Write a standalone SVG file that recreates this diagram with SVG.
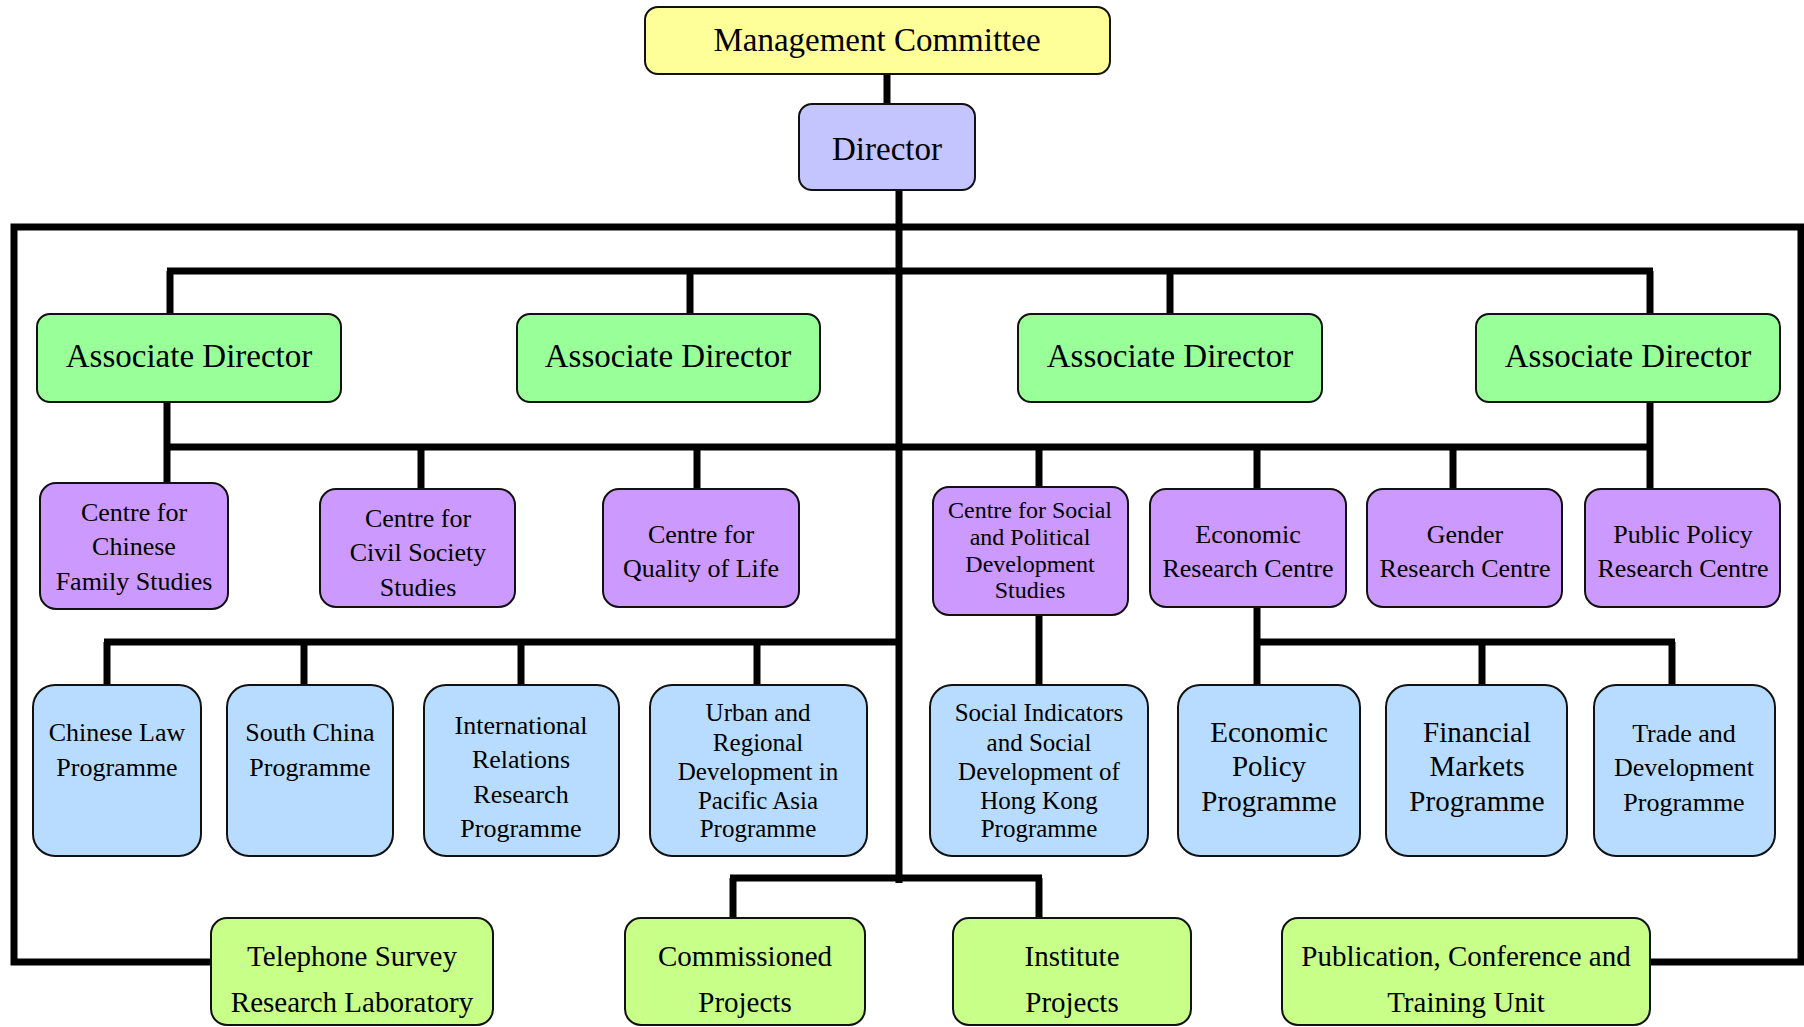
<svg xmlns="http://www.w3.org/2000/svg" width="1804" height="1027" viewBox="0 0 1804 1027">
<style>
.box{stroke:#111;stroke-width:2}
.mc{fill:#ffff99}.dir{fill:#c4c4ff}.ad{fill:#99ff99}.ctr{fill:#cc99ff}.prg{fill:#b8dcff}.unit{fill:#c8ff88}
text{font-family:"Liberation Serif","Times New Roman",serif;fill:#000;text-anchor:middle;dominant-baseline:central}
.f33{font-size:33px}.f29{font-size:29px}.f26{font-size:26px}.f25{font-size:25px}.f24{font-size:24px}
.ln{stroke:#000;stroke-width:7;fill:none;stroke-linecap:butt}
</style>
<rect width="1804" height="1027" fill="#fff"/>
<g id="connectors" class="ln">
<line x1="887" y1="74" x2="887" y2="104"/>
<line x1="899" y1="190" x2="899" y2="883"/>
<path d="M211 962 H14 V227 H1801 V962 H1650"/>
<line x1="167" y1="271" x2="1653" y2="271"/>
<line x1="170" y1="271" x2="170" y2="314"/>
<line x1="690" y1="271" x2="690" y2="314"/>
<line x1="1170" y1="271" x2="1170" y2="314"/>
<line x1="1650" y1="271" x2="1650" y2="314"/>
<line x1="167" y1="402" x2="167" y2="483"/>
<line x1="1650" y1="402" x2="1650" y2="489"/>
<line x1="164" y1="447" x2="1653" y2="447"/>
<line x1="421" y1="447" x2="421" y2="489"/>
<line x1="697" y1="447" x2="697" y2="489"/>
<line x1="1039" y1="447" x2="1039" y2="487"/>
<line x1="1257" y1="447" x2="1257" y2="489"/>
<line x1="1453" y1="447" x2="1453" y2="489"/>
<line x1="104" y1="642" x2="899" y2="642"/>
<line x1="107" y1="642" x2="107" y2="685"/>
<line x1="304" y1="642" x2="304" y2="685"/>
<line x1="521" y1="642" x2="521" y2="685"/>
<line x1="757" y1="642" x2="757" y2="685"/>
<line x1="1039" y1="615" x2="1039" y2="685"/>
<line x1="1257" y1="607" x2="1257" y2="685"/>
<line x1="1254" y1="642" x2="1675" y2="642"/>
<line x1="1482" y1="642" x2="1482" y2="685"/>
<line x1="1672" y1="642" x2="1672" y2="685"/>
<line x1="730" y1="878" x2="1042" y2="878"/>
<line x1="733" y1="878" x2="733" y2="918"/>
<line x1="1039" y1="878" x2="1039" y2="918"/>
</g>
<g id="management-committee"><rect class="box mc" x="645" y="7" width="465" height="67" rx="13"/><text class="f33" x="877" y="40">Management Committee</text></g>
<g id="director"><rect class="box dir" x="799" y="104" width="176" height="86" rx="13"/><text class="f33" x="887" y="149">Director</text></g>
<g id="ad1"><rect class="box ad" x="37" y="314" width="304" height="88" rx="13"/><text class="f33" x="189" y="356">Associate Director</text></g>
<g id="ad2"><rect class="box ad" x="517" y="314" width="303" height="88" rx="13"/><text class="f33" x="668" y="356">Associate Director</text></g>
<g id="ad3"><rect class="box ad" x="1018" y="314" width="304" height="88" rx="13"/><text class="f33" x="1170" y="356">Associate Director</text></g>
<g id="ad4"><rect class="box ad" x="1476" y="314" width="304" height="88" rx="13"/><text class="f33" x="1628" y="356">Associate Director</text></g>
<g id="c-family"><rect class="box ctr" x="40" y="483" width="188" height="126" rx="16"/><text class="f26" x="134" y="512">Centre for</text><text class="f26" x="134" y="546">Chinese</text><text class="f26" x="134" y="581">Family Studies</text></g>
<g id="c-civil"><rect class="box ctr" x="320" y="489" width="195" height="118" rx="16"/><text class="f26" x="418" y="518">Centre for</text><text class="f26" x="418" y="552">Civil Society</text><text class="f26" x="418" y="587">Studies</text></g>
<g id="c-quality"><rect class="box ctr" x="603" y="489" width="196" height="118" rx="16"/><text class="f26" x="701" y="534">Centre for</text><text class="f26" x="701" y="568">Quality of Life</text></g>
<g id="c-social"><rect class="box ctr" x="933" y="487" width="195" height="128" rx="16"/><text class="f24" x="1030" y="510">Centre for Social</text><text class="f24" x="1030" y="537">and Political</text><text class="f24" x="1030" y="564">Development</text><text class="f24" x="1030" y="590">Studies</text></g>
<g id="c-economic"><rect class="box ctr" x="1150" y="489" width="196" height="118" rx="16"/><text class="f26" x="1248" y="534">Economic</text><text class="f26" x="1248" y="568">Research Centre</text></g>
<g id="c-gender"><rect class="box ctr" x="1367" y="489" width="195" height="118" rx="16"/><text class="f26" x="1465" y="534">Gender</text><text class="f26" x="1465" y="568">Research Centre</text></g>
<g id="c-public"><rect class="box ctr" x="1585" y="489" width="195" height="118" rx="16"/><text class="f26" x="1683" y="534">Public Policy</text><text class="f26" x="1683" y="568">Research Centre</text></g>
<g id="p-law"><rect class="box prg" x="33" y="685" width="168" height="171" rx="22"/><text class="f26" x="117" y="732">Chinese Law</text><text class="f26" x="117" y="767">Programme</text></g>
<g id="p-southchina"><rect class="box prg" x="227" y="685" width="166" height="171" rx="22"/><text class="f26" x="310" y="732">South China</text><text class="f26" x="310" y="767">Programme</text></g>
<g id="p-intl"><rect class="box prg" x="424" y="685" width="195" height="171" rx="22"/><text class="f26" x="521" y="725">International</text><text class="f26" x="521" y="759">Relations</text><text class="f26" x="521" y="794">Research</text><text class="f26" x="521" y="828">Programme</text></g>
<g id="p-urban"><rect class="box prg" x="650" y="685" width="217" height="171" rx="22"/><text class="f25" x="758" y="712">Urban and</text><text class="f25" x="758" y="742">Regional</text><text class="f25" x="758" y="771">Development in</text><text class="f25" x="758" y="800">Pacific Asia</text><text class="f25" x="758" y="828">Programme</text></g>
<g id="p-indicators"><rect class="box prg" x="930" y="685" width="218" height="171" rx="22"/><text class="f25" x="1039" y="712">Social Indicators</text><text class="f25" x="1039" y="742">and Social</text><text class="f25" x="1039" y="771">Development of</text><text class="f25" x="1039" y="800">Hong Kong</text><text class="f25" x="1039" y="828">Programme</text></g>
<g id="p-econpolicy"><rect class="box prg" x="1178" y="685" width="182" height="171" rx="22"/><text class="f29" x="1269" y="732">Economic</text><text class="f29" x="1269" y="766">Policy</text><text class="f29" x="1269" y="801">Programme</text></g>
<g id="p-financial"><rect class="box prg" x="1386" y="685" width="181" height="171" rx="22"/><text class="f29" x="1477" y="732">Financial</text><text class="f29" x="1477" y="766">Markets</text><text class="f29" x="1477" y="801">Programme</text></g>
<g id="p-trade"><rect class="box prg" x="1594" y="685" width="181" height="171" rx="22"/><text class="f26" x="1684" y="733">Trade and</text><text class="f26" x="1684" y="767">Development</text><text class="f26" x="1684" y="802">Programme</text></g>
<g id="u-telephone"><rect class="box unit" x="211" y="918" width="282" height="107" rx="16"/><text class="f29" x="352" y="956">Telephone Survey</text><text class="f29" x="352" y="1002">Research Laboratory</text></g>
<g id="u-commissioned"><rect class="box unit" x="625" y="918" width="240" height="107" rx="16"/><text class="f29" x="745" y="956">Commissioned</text><text class="f29" x="745" y="1002">Projects</text></g>
<g id="u-institute"><rect class="box unit" x="953" y="918" width="238" height="107" rx="16"/><text class="f29" x="1072" y="956">Institute</text><text class="f29" x="1072" y="1002">Projects</text></g>
<g id="u-publication"><rect class="box unit" x="1282" y="918" width="368" height="107" rx="16"/><text class="f29" x="1466" y="956">Publication, Conference and</text><text class="f29" x="1466" y="1002">Training Unit</text></g>
</svg>
